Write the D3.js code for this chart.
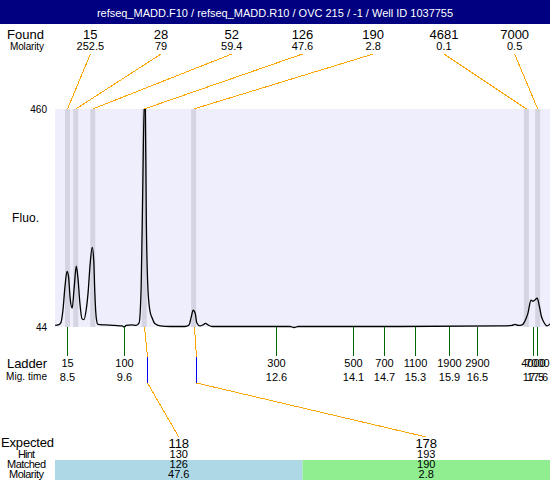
<!DOCTYPE html>
<html><head><meta charset="utf-8">
<script src="https://cdn.jsdelivr.net/npm/d3@7"></script>
<style>body{margin:0;background:#fff}svg{display:block;font-family:"Liberation Sans",Arial,sans-serif}</style>
</head><body><div id="chart"></div>
<script>
const title = "refseq_MADD.F10 / refseq_MADD.R10 / OVC 215 / -1 / Well ID 1037755";
const foundSize = ["15","28","52","126","190","4681","7000"];
const foundMolarity = ["252.5","79","59.4","47.6","2.8","0.1","0.5"];
const foundTime = [8.51,8.67,9.00,10.00,10.96,17.42,17.64];
const ladderSize = ["15","100","300","500","700","1100","1900","2900","4000","7000"];
const ladderTime = [8.50,9.61,12.56,14.05,14.65,15.26,15.92,16.46,17.54,17.63];
const expectedSize = ["118","178"];
const expectedHint = ["130","193"];
const expectedMatched = ["126","190"];
const expectedMolarity = ["47.6","2.8"];
const expectedFoundIdx = [3,4];
const expectedTime = [10.05,11.00];
const expectedColor = ["#add8e6","#90ee90"];
const traceTime = [8.27,8.33,8.38,8.42,8.46,8.50,8.53,8.56,8.60,8.64,8.68,8.71,8.75,8.79,8.83,8.87,8.91,8.95,8.99,9.02,9.04,9.07,9.10,9.24,9.43,9.57,9.61,9.65,9.76,9.84,9.90,9.94,9.97,10.00,10.02,10.04,10.07,10.11,10.15,10.21,10.31,10.50,10.79,10.87,10.91,10.95,10.99,11.02,11.08,11.14,11.19,11.24,11.32,12.05,12.83,12.91,12.99,14.97,16.91,17.14,17.20,17.26,17.34,17.39,17.45,17.51,17.55,17.59,17.63,17.67,17.71,17.76,17.82,17.88];
const traceFluo = [47,48,52,75,120,150,140,100,80,120,160,140,90,60,58,75,110,165,196,170,110,60,49,48,47,46,44,47,48,47,52,120,300,470,470,250,120,75,62,50,46,45,45,48,62,76,70,52,46,48,51,48,45,45,45,43,45,45,46,47,49,47,48,55,70,95,93,96,99,85,65,53,46,50];
const fluoTicks = [44,460];

const W = 550, H = 480;
const svg = d3.select("#chart").append("svg").attr("width", W).attr("height", H);
const pL = 55, pR = 550, pT = 109, pB = 327;
const x = d3.scaleLinear().domain([8.267, 17.879]).range([pL, pR]);
const y = d3.scaleLinear().domain([44, 460]).range([pB, pT]);
const fx = d3.scaleBand().domain(d3.range(foundSize.length)).range([pL, pR]);
const ex = d3.scaleBand().domain(d3.range(expectedSize.length)).range([pL, pR]);

function label(txt, x0, yy, size, len) {
  return svg.append("text").attr("x",x0).attr("y",yy).attr("font-size",size)
    .attr("textLength",len).attr("lengthAdjust","spacing").text(txt);
}
function oline(x1,y1,x2,y2,col) {
  return svg.append("line").attr("x1",x1).attr("y1",y1).attr("x2",x2).attr("y2",y2)
    .attr("stroke",col||"#ffa500").attr("stroke-width",1).attr("shape-rendering","crispEdges");
}

// header
svg.append("rect").attr("x",0).attr("y",0).attr("width",W).attr("height",24).attr("fill","#000080");
svg.append("text").attr("x",W/2).attr("y",17).attr("text-anchor","middle").attr("fill","#fff").attr("font-size",11).text(title);

// found labels
label("Found", 7, 39, 13, 37);
label("Molarity", 10, 50, 10, 34);
foundSize.forEach((s,i)=>{
  const cx = fx(i)+fx.bandwidth()/2;
  svg.append("text").attr("x",cx).attr("y",39).attr("text-anchor","middle").attr("font-size",13).text(s);
  svg.append("text").attr("x",cx).attr("y",50).attr("text-anchor","middle").attr("font-size",11).text(foundMolarity[i]);
  oline(cx,54,x(foundTime[i]),pT);
});

// plot background
svg.append("rect").attr("x",pL).attr("y",pT).attr("width",pR-pL).attr("height",pB-pT).attr("fill","#eeeefc");
// bands
foundTime.forEach(t=>{
  svg.append("rect").attr("x",x(t)-2.5).attr("y",pT).attr("width",5).attr("height",pB-pT).attr("fill","#d4d4e2");
});
// trace
svg.append("clipPath").attr("id","clip").append("rect").attr("x",pL).attr("y",pT).attr("width",pR-pL).attr("height",pB-pT+2);
const line = d3.line().x((d,i)=>x(traceTime[i])).y((d,i)=>y(traceFluo[i])).curve(d3.curveMonotoneX);
svg.append("path").attr("d",line(traceFluo)).attr("fill","none").attr("stroke","#000").attr("stroke-width",1.3).attr("clip-path","url(#clip)");

// y labels
fluoTicks.forEach(v=>{
  svg.append("text").attr("x",47).attr("y",y(v)+4).attr("text-anchor","end").attr("font-size",10).text(v);
});
label("Fluo.", 12, 222, 12, 27);

// ladder
label("Ladder", 7, 368, 13, 40);
label("Mig. time", 6, 380, 10, 41);
ladderSize.forEach((s,i)=>{
  const lx = Math.round(x(ladderTime[i]))+0.5;
  svg.append("line").attr("x1",lx).attr("x2",lx).attr("y1",pB).attr("y2",356).attr("stroke","#006400").attr("stroke-width",1);
  svg.append("text").attr("x",lx).attr("y",367).attr("text-anchor","middle").attr("font-size",11).text(s);
  svg.append("text").attr("x",lx).attr("y",381).attr("text-anchor","middle").attr("font-size",11).text(d3.format(".1f")(ladderTime[i]));
});

// expected table
label("Expected", 1, 447, 13, 53);
label("Hint", 18, 458, 11, 17);
label("Matched", 7, 468, 11, 39);
label("Molarity", 9, 478, 11, 35);
expectedSize.forEach((s,i)=>{
  const cx = ex(i)+ex.bandwidth()/2;
  svg.append("rect").attr("x",ex(i)).attr("y",460).attr("width",ex.bandwidth()).attr("height",20).attr("fill",expectedColor[i]);
  const bx = Math.round(x(foundTime[expectedFoundIdx[i]]))+0.5;
  const hx = Math.round(x(expectedTime[i]))+0.5;
  oline(bx,pB,hx,357);
  oline(hx,357,hx,383,"#0000ff");
  oline(hx,383,cx,437);
  svg.append("text").attr("x",cx).attr("y",448).attr("text-anchor","middle").attr("font-size",13).text(s);
  svg.append("text").attr("x",cx).attr("y",458).attr("text-anchor","middle").attr("font-size",11).text(expectedHint[i]);
  svg.append("text").attr("x",cx).attr("y",468).attr("text-anchor","middle").attr("font-size",11).text(expectedMatched[i]);
  svg.append("text").attr("x",cx).attr("y",478).attr("text-anchor","middle").attr("font-size",11).text(expectedMolarity[i]);
});
</script></body></html>
